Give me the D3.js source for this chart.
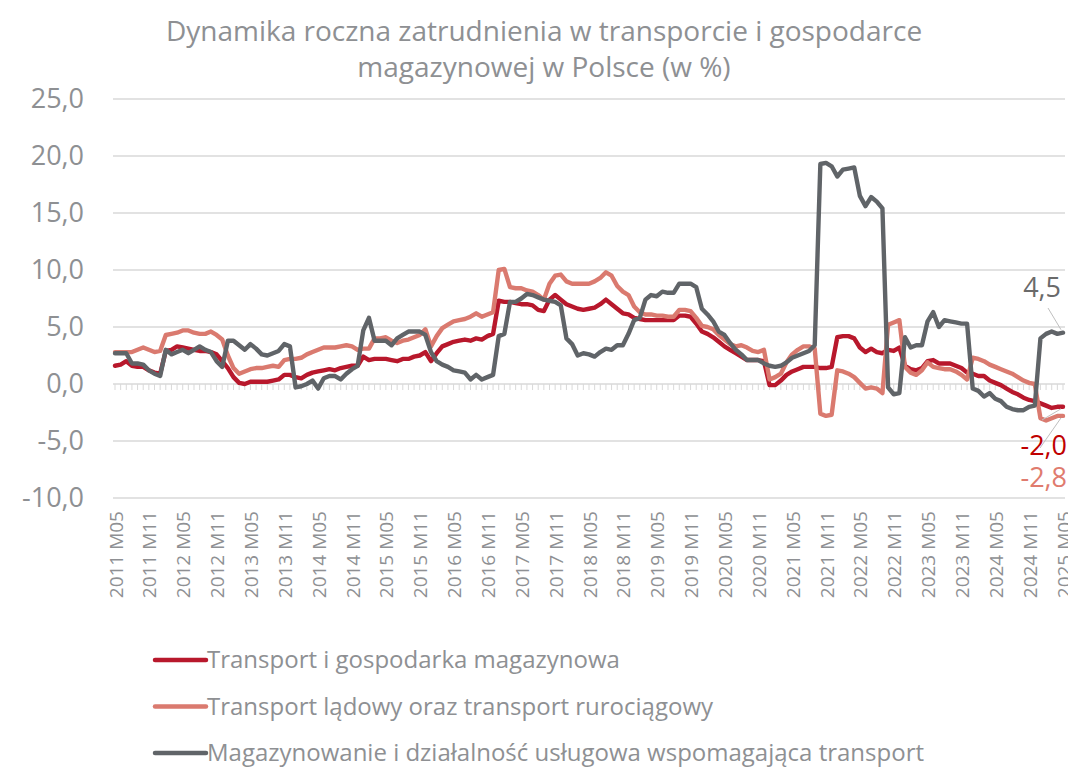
<!DOCTYPE html>
<html>
<head>
<meta charset="utf-8">
<script src="https://cdn.jsdelivr.net/npm/d3@7"></script>
<style>
  body { margin: 0; background: #ffffff; }
  text { font-family: "Open Sans", "Noto Sans", sans-serif; }
</style>
</head>
<body>
<div id="chart"></div>
<script>
// SVG container
var svgWidth = 1068;
var svgHeight = 768;

// Plot area (pixels)
var plot = { left: 115, right: 1063, top: 99, bottom: 498 };

// ----------------- Data -----------------
// Monthly categories 2011 M05 .. 2025 M05
var startYear = 2011;
var startMonth = 5;
var months = [];
for (var k = 0; k <= 168; k++) {
  var m = startMonth - 1 + k;
  var yr = startYear + Math.floor(m / 12);
  var mo = (m % 12) + 1;
  months.push(yr + " M" + (mo < 10 ? "0" + mo : mo));
}

// Tick labels shown on the x axis (every 6 months)
var xTickLabels = months.filter(function(d, i) { return i % 6 === 0; });

// Y axis ticks
var yTicks = [-10, -5, 0, 5, 10, 15, 20, 25];

// Series names
var seriesNames = [
  "Transport i gospodarka magazynowa",
  "Transport lądowy oraz transport rurociągowy",
  "Magazynowanie i działalność usługowa wspomagająca transport"
];

// Transport i gospodarka magazynowa
var transportTotal = [
  1.6, 1.7, 2.0, 1.6, 1.5, 1.5, 1.2, 1.0, 0.9, 2.9, 3.0, 3.3,
  3.2, 3.1, 3.0, 2.9, 2.9, 2.8, 2.6, 2.0, 1.4, 0.6, 0.1, 0.0,
  0.2, 0.2, 0.2, 0.2, 0.3, 0.4, 0.8, 0.8, 0.6, 0.5, 0.8, 1.0,
  1.1, 1.2, 1.3, 1.2, 1.4, 1.5, 1.6, 1.6, 2.4, 2.1, 2.2, 2.2,
  2.2, 2.1, 2.0, 2.2, 2.2, 2.4, 2.5, 2.8, 2.0, 2.7, 3.3, 3.5,
  3.7, 3.8, 3.9, 3.8, 4.0, 3.9, 4.2, 4.4, 7.3, 7.2, 7.2, 7.1,
  7.0, 7.0, 6.9, 6.5, 6.4, 7.4, 7.8, 7.4, 7.0, 6.8, 6.6, 6.5,
  6.6, 6.7, 7.0, 7.4, 7.0, 6.6, 6.2, 6.1, 5.8, 5.7, 5.6, 5.6,
  5.6, 5.6, 5.6, 5.6, 6.0, 6.0, 5.9, 5.3, 4.6, 4.4, 4.1, 3.7,
  3.3, 3.0, 2.7, 2.4, 2.1, 2.1, 2.1, 2.0, -0.1, -0.1, 0.3, 0.8,
  1.1, 1.3, 1.5, 1.5, 1.5, 1.4, 1.4, 1.5, 4.1, 4.2, 4.2, 4.0,
  3.2, 2.8, 3.1, 2.8, 2.7, 3.0, 2.9, 3.2, 1.6, 1.3, 1.2, 1.4,
  2.0, 2.1, 1.8, 1.8, 1.8, 1.6, 1.4, 1.0, 0.9, 0.7, 0.7, 0.3,
  0.1, -0.1, -0.4, -0.7, -0.9, -1.2, -1.4, -1.5, -1.7, -1.9, -2.1, -2.0,
  -2.0
];

// Transport lądowy oraz transport rurociągowy
var landTransport = [
  2.8, 2.8, 2.8, 2.8, 3.0, 3.2, 3.0, 2.8, 2.9, 4.3, 4.4, 4.5,
  4.7, 4.7, 4.5, 4.4, 4.4, 4.6, 4.3, 3.9, 2.5, 1.4, 0.9, 1.1,
  1.3, 1.4, 1.4, 1.5, 1.6, 1.5, 2.1, 2.2, 2.2, 2.3, 2.6, 2.8,
  3.0, 3.2, 3.2, 3.2, 3.3, 3.4, 3.3, 3.0, 3.1, 3.1, 4.0, 4.0,
  4.1, 3.8, 3.6, 3.8, 3.9, 4.1, 4.3, 4.8, 3.3, 4.2, 4.9, 5.2,
  5.5, 5.6, 5.7, 5.9, 6.2, 5.9, 6.1, 6.3, 10.0, 10.1, 8.5, 8.4,
  8.4, 8.2, 8.1, 7.8, 7.4, 8.8, 9.5, 9.6, 9.0, 8.8, 8.8, 8.8,
  8.8, 9.0, 9.3, 9.8, 9.5, 8.6, 8.1, 7.8, 6.8, 6.3, 6.1, 6.1,
  6.0, 6.0, 5.9, 5.9, 6.5, 6.5, 6.4, 5.8, 5.1, 5.0, 4.8, 4.3,
  3.9, 3.5, 3.3, 3.4, 3.2, 2.9, 2.8, 3.0, 0.4, 0.6, 0.9, 1.9,
  2.6, 3.0, 3.3, 3.3, 3.1, -2.6, -2.8, -2.7, 1.2, 1.1, 0.9, 0.6,
  0.1, -0.4, -0.3, -0.4, -0.8, 5.2, 5.4, 5.6, 1.5, 1.0, 0.8, 1.2,
  1.9, 1.5, 1.4, 1.3, 1.3, 1.1, 0.8, 0.4, 2.3, 2.2, 2.0, 1.7,
  1.5, 1.3, 1.1, 0.9, 0.6, 0.3, 0.1, 0.0, -3.0, -3.2, -3.0, -2.8,
  -2.8
];

// Magazynowanie i działalność usługowa wspomagająca transport
var warehousing = [
  2.7, 2.7, 2.7, 1.8, 1.8, 1.7, 1.2, 0.9, 0.7, 3.0, 2.6, 2.8,
  3.0, 2.7, 3.0, 3.3, 3.0, 2.8, 2.0, 1.5, 3.8, 3.8, 3.4, 3.0,
  3.5, 3.1, 2.6, 2.5, 2.7, 2.9, 3.5, 3.3, -0.3, -0.2, 0.0, 0.3,
  -0.4, 0.5, 0.7, 0.7, 0.4, 0.9, 1.3, 1.6, 4.7, 5.8, 3.8, 3.8,
  3.8, 3.4, 4.0, 4.3, 4.6, 4.6, 4.6, 4.3, 2.8, 2.0, 1.7, 1.5,
  1.2, 1.1, 1.0, 0.4, 0.8, 0.4, 0.6, 0.8, 4.2, 4.4, 7.2, 7.2,
  7.5, 7.9, 7.8, 7.6, 7.4, 7.3, 7.2, 6.9, 4.0, 3.5, 2.5, 2.7,
  2.6, 2.4, 2.8, 3.1, 3.0, 3.4, 3.4, 4.4, 5.6, 5.8, 7.4, 7.8,
  7.7, 8.1, 8.0, 8.0, 8.8, 8.8, 8.8, 8.5, 6.6, 6.1, 5.5, 4.6,
  4.3, 3.6, 3.0, 2.6, 2.1, 2.1, 2.1, 1.8, 1.6, 1.5, 1.6, 1.9,
  2.3, 2.5, 2.7, 2.9, 3.4, 19.3, 19.4, 19.1, 18.2, 18.8, 18.9, 19.0,
  16.5, 15.6, 16.4, 16.0, 15.4, -0.3, -0.9, -0.8, 4.1, 3.2, 3.4, 3.4,
  5.5, 6.3, 5.0, 5.6, 5.5, 5.4, 5.3, 5.3, -0.4, -0.6, -1.1, -0.8,
  -1.3, -1.5, -2.0, -2.2, -2.3, -2.3, -2.0, -1.9, 4.0, 4.4, 4.6, 4.4,
  4.5
];

var seriesColors = ["#B8182C", "#DA7A6F", "#606468"];
var labelColors = ["#C00000", "#E07B6E", "#6A6A6A"];
var textGray = "#8E9093";

// Build the table the chart draws from
var seriesData = [transportTotal, landTransport, warehousing].map(function(vals, s) {
  return {
    name: seriesNames[s],
    color: seriesColors[s],
    values: vals.map(function(v, i) { return { month: months[i], value: v }; })
  };
});

// Polish number format: one decimal, comma separator
var fmt = d => d3.format(".1f")(d).replace(".", ",").replace("−", "-");

// Create SVG container
var svg = d3.select("#chart").append("svg")
            .attr("width", svgWidth)
            .attr("height", svgHeight);

// Scales
var xScale = d3.scalePoint()
               .domain(months)
               .range([plot.left, plot.right]);
var yScale = d3.scaleLinear()
               .domain([-10, 25])
               .range([plot.bottom, plot.top]);

// ----------------- Title -----------------
var title = svg.append("text")
               .attr("text-anchor", "middle")
               .attr("fill", textGray)
               .attr("font-size", "28px");
title.append("tspan").attr("x", 544).attr("y", 41)
     .text("Dynamika roczna zatrudnienia w transporcie i gospodarce");
title.append("tspan").attr("x", 544).attr("y", 77)
     .text("magazynowej w Polsce (w %)");

// ----------------- Grid and axes -----------------
svg.append("g")
   .selectAll("line")
   .data(yTicks)
   .enter()
   .append("line")
   .attr("x1", plot.left - 2)
   .attr("x2", plot.right + 2)
   .attr("y1", d => yScale(d))
   .attr("y2", d => yScale(d))
   .attr("stroke", "#D9D9D9")
   .attr("stroke-width", 1.3);

// Y axis labels
var yAxis = d3.axisLeft(yScale)
              .tickValues(yTicks)
              .tickSize(0)
              .tickPadding(0)
              .tickFormat(fmt);
var yAxisGroup = svg.append("g")
                    .attr("transform", "translate(84,0)")
                    .call(yAxis);
yAxisGroup.select(".domain").remove();
yAxisGroup.selectAll("text")
          .attr("fill", textGray)
          .attr("font-size", "27px")
          .attr("font-family", "Open Sans");

// Month tick marks along the zero line
svg.append("g")
   .selectAll("line")
   .data(months)
   .enter()
   .append("line")
   .attr("x1", d => xScale(d))
   .attr("x2", d => xScale(d))
   .attr("y1", yScale(0))
   .attr("y2", yScale(0) + 6)
   .attr("stroke", "#D9D9D9")
   .attr("stroke-width", 1);

// X axis labels (rotated)
var xAxis = d3.axisBottom(xScale)
              .tickValues(xTickLabels)
              .tickSize(0)
              .tickPadding(0);
var xAxisGroup = svg.append("g")
                    .attr("transform", "translate(0,511)")
                    .call(xAxis);
xAxisGroup.select(".domain").remove();
xAxisGroup.selectAll("text")
          .attr("fill", textGray)
          .attr("font-size", "19px")
          .attr("font-family", "Open Sans")
          .attr("text-anchor", "end")
          .attr("dy", "0")
          .attr("y", 0)
          .attr("x", 0)
          .attr("transform", "rotate(-90) translate(0,7)");

// ----------------- Lines -----------------
var lineGen = d3.line()
                .x(d => xScale(d.month))
                .y(d => yScale(d.value));

svg.append("g")
   .selectAll("path")
   .data(seriesData)
   .enter()
   .append("path")
   .attr("d", d => lineGen(d.values))
   .attr("fill", "none")
   .attr("stroke", d => d.color)
   .attr("stroke-width", 4.4)
   .attr("stroke-linejoin", "round")
   .attr("stroke-linecap", "round");

// ----------------- End labels -----------------
var lastMonth = months[months.length - 1];
var endX = xScale(lastMonth);
var endLabels = [
  { s: 2, dx: -2, y: 297, lx1: -15, ly1: 308 },
  { s: 0, dx: 4, y: 455, lx1: -21, ly1: 420 },
  { s: 1, dx: 4, y: 487, lx1: -23, ly1: 448 }
];
endLabels.forEach(function(l) {
  var v = seriesData[l.s].values[months.length - 1].value;
  svg.append("line")
     .attr("x1", endX + l.lx1)
     .attr("y1", l.ly1)
     .attr("x2", endX - 2)
     .attr("y2", yScale(v) + (v > 0 ? -3 : 2))
     .attr("stroke", "#BFBFBF")
     .attr("stroke-width", 1);
  svg.append("text")
     .attr("x", endX + l.dx)
     .attr("y", l.y)
     .attr("text-anchor", "end")
     .attr("fill", labelColors[l.s])
     .attr("font-size", "27px")
     .text(fmt(v));
});

// ----------------- Legend -----------------
var legend = svg.append("g")
                .selectAll("g")
                .data(seriesData)
                .enter()
                .append("g")
                .attr("transform", (d, i) => `translate(155, ${660 + i * 46.5})`);
legend.append("line")
      .attr("x1", 0)
      .attr("x2", 51)
      .attr("y1", 0)
      .attr("y2", 0)
      .attr("stroke", d => d.color)
      .attr("stroke-width", 4.5)
      .attr("stroke-linecap", "round");
legend.append("text")
      .attr("x", 52)
      .attr("y", 8)
      .attr("fill", textGray)
      .attr("font-size", "24px")
      .text(d => d.name);
</script>
</body>
</html>
